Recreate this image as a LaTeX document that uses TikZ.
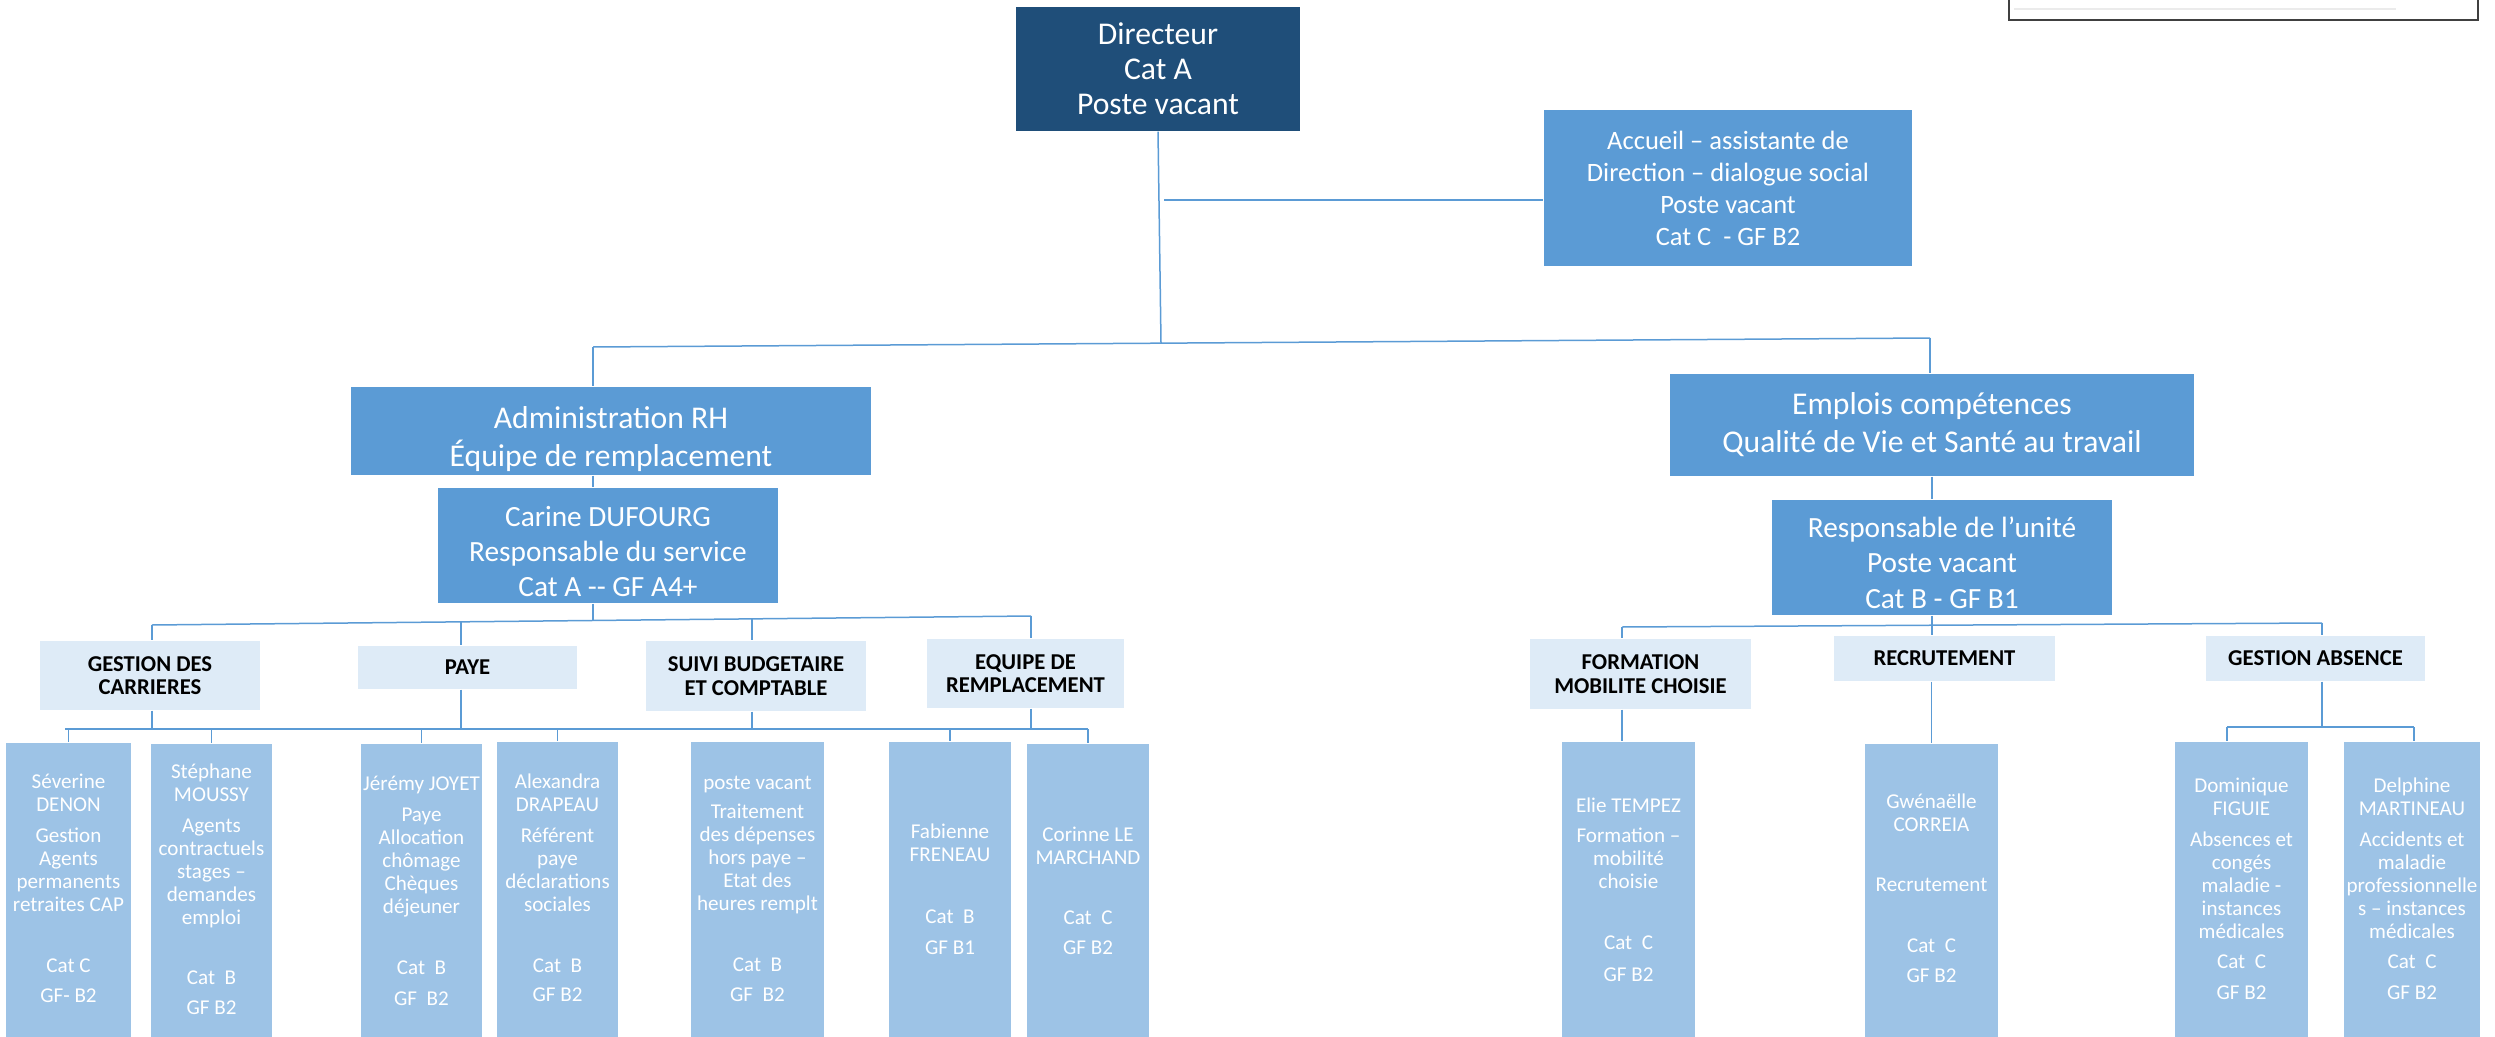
\documentclass[tikz,border=0pt]{standalone}
\usepackage{fontspec}
\setmainfont{Carlito}
\definecolor{dirblue}{RGB}{31,78,121}
\definecolor{midblue}{RGB}{91,155,213}
\definecolor{paleblue}{RGB}{222,235,247}
\definecolor{staffblue}{RGB}{157,195,230}
\newcommand{\staffcell}[3]{\parbox[t][92pt][t]{#1}{\centering\rule{0pt}{#2}#3}}
\newcommand{\topgap}[1]{\rule{0pt}{#1}}

\begin{document}
\begin{tikzpicture}[x=0.3pt, y=-0.3pt,
    conn/.style={draw=midblue, line width=0.45pt},
    head/.style={fill=midblue, text=white, align=center, inner sep=0pt},
    catbox/.style={fill=paleblue, align=center, inner sep=0pt, font=\bfseries\fontsize{6.8}{7.1}\selectfont},
    staff/.style={fill=staffblue, text=white, inner sep=0pt, anchor=north, font=\fontsize{6.33}{6.9}\selectfont}]
    \useasboundingbox (0,0) rectangle (2495,1037);

    % direction
    \node[fill=dirblue, text=white, align=center, inner sep=0pt, minimum width=85.2pt, minimum height=37.2pt,
        font=\fontsize{9.5}{10.5}\selectfont] (dir) at (1158,69) {Directeur\\Cat A\\Poste vacant};
    \node[head, minimum width=110.4pt, minimum height=46.8pt, font=\fontsize{7.95}{9.6}\selectfont] (acc) at (1728,188)
        {Accueil – assistante de\\Direction – dialogue social\\Poste vacant\\Cat C~ - GF B2};

    \node[head, minimum width=156pt, minimum height=26.4pt, font=\fontsize{9.5}{11.4}\selectfont] (adm) at (611,431)
        {\topgap{11.5pt}Administration RH\\Équipe de remplacement};
    \node[head, minimum width=102pt, minimum height=34.5pt, font=\fontsize{8.8}{10.6}\selectfont] (car) at (608,545.5)
        {\topgap{9.6pt}Carine DUFOURG\\Responsable du service\\Cat A -{}- GF A4+};
    \node[head, minimum width=157.2pt, minimum height=30.6pt, font=\fontsize{9.5}{11.4}\selectfont] (emp) at (1932,425)
        {Emplois compétences\\Qualité de Vie et Santé au travail};
    \node[head, minimum width=102pt, minimum height=34.5pt, font=\fontsize{8.8}{10.6}\selectfont] (res) at (1942,557.5)
        {\topgap{9.2pt}Responsable de l’unité\\Poste vacant\\Cat B - GF B1};

    % services
    \node[catbox, minimum width=66pt, minimum height=20.7pt] (gcar) at (150,675.5) {GESTION DES\\CARRIERES};
    \node[catbox, minimum width=65.7pt, minimum height=12.9pt] (paye) at (467.5,667.5) {PAYE};
    \node[catbox, minimum width=66pt, minimum height=21pt] (suivi) at (756,676) {SUIVI BUDGETAIRE\\ET COMPTABLE};
    \node[catbox, minimum width=59.1pt, minimum height=20.7pt] (equ) at (1025.5,673.5) {EQUIPE DE\\REMPLACEMENT};
    \node[catbox, minimum width=66.3pt, minimum height=21pt] (frm) at (1640.5,674) {FORMATION\\MOBILITE CHOISIE};
    \node[catbox, minimum width=66.3pt, minimum height=13.5pt] (rec) at (1944.5,658.5) {RECRUTEMENT};
    \node[catbox, minimum width=65.7pt, minimum height=13.5pt] (gab) at (2315.5,658.5) {GESTION ABSENCE};

    % agents
    \node[staff] (sev) at (68.5,742) {\staffcell{37.5pt}{13.8pt}{Séverine\\DENON\\[2.4pt]Gestion\\Agents\\permanents\\retraites~CAP\\[11.4pt]Cat C\\[2.1pt]GF- B2}};
    \node[staff] (ste) at (211.5,743) {\staffcell{36.3pt}{10.5pt}{Stéphane\\MOUSSY\\[2.4pt]Agents\\contractuels\\stages –\\demandes\\emploi\\[11.1pt]Cat~~B\\[2.1pt]GF B2}};
    \node[staff] (jer) at (421.5,743) {\staffcell{36.3pt}{14.1pt}{Jérémy~JOYET\\[2.4pt]Paye\\Allocation\\chômage\\Chèques\\déjeuner\\[11.4pt]Cat~~B\\[2.4pt]GF~~B2}};
    \node[staff] (ale) at (557.5,741) {\staffcell{36.3pt}{14.1pt}{Alexandra\\DRAPEAU\\[2.4pt]Référent\\paye\\déclarations\\sociales\\[11.4pt]Cat~~B\\[1.8pt]GF B2}};
    \node[staff] (pvac) at (757.5,741) {\staffcell{39.9pt}{14.4pt}{poste vacant\\[1.8pt]Traitement\\des~dépenses\\hors~paye~–\\Etat des\\heures~remplt\\[11.4pt]Cat~~B\\[2.1pt]GF~~B2}};
    \node[staff] (fab) at (950,741) {\staffcell{36.6pt}{29.1pt}{Fabienne\\FRENEAU\\[11.7pt]Cat~~B\\[2.4pt]GF B1}};
    \node[staff] (cor) at (1088,743) {\staffcell{36.6pt}{29.4pt}{Corinne~LE\\MARCHAND\\[11.1pt]Cat~~C\\[2.1pt]GF B2}};
    \node[staff] (eli) at (1628.5,741) {\staffcell{39.9pt}{21.3pt}{Elie~TEMPEZ\\[2.1pt]Formation~–\\mobilité\\choisie\\[11.4pt]Cat~~C\\[2.7pt]GF B2}};
    \node[staff] (gwe) at (1931.5,743) {\staffcell{39.9pt}{19.5pt}{Gwénaëlle\\CORREIA\\[11.1pt]Recrutement\\[11.4pt]Cat~~C\\[2.1pt]GF B2}};
    \node[staff] (dom) at (2241.5,741) {\staffcell{39.9pt}{15.3pt}{Dominique\\FIGUIE\\[2.4pt]Absences~et\\congés\\maladie -\\instances\\médicales\\[2.1pt]Cat~~C\\[2.4pt]GF B2}};
    \node[staff] (del) at (2412,741) {\staffcell{40.8pt}{15.3pt}{Delphine\\MARTINEAU\\[2.4pt]Accidents~et\\maladie\\professionnelle\\s~–~instances\\médicales\\[2.1pt]Cat~~C\\[2.4pt]GF B2}};

    % liaisons
    \coordinate (dirjoin) at (1161,343);
    \coordinate (accjoin) at (1164,200);
    \coordinate (busL) at (593,347);
    \coordinate (busR) at (1930,338);
    \draw[conn] (dir.south) -- (dirjoin);
    \draw[conn] (accjoin) -- (accjoin -| acc.west);
    \draw[conn] (busL) -- (busR);
    \draw[conn] (busL) -- (busL |- adm.north);
    \draw[conn] (busR) -- (busR |- emp.north);

    \coordinate (carjoin) at (593,620);
    \coordinate (b2a) at (152,625);
    \coordinate (b2b) at (461,622);
    \coordinate (b2c) at (752,618);
    \coordinate (b2d) at (1031,616);
    \coordinate (b3L) at (65,729);
    \coordinate (b3R) at (1088,729);
    \draw[conn] (adm.south -| busL) -- (car.north -| busL);
    \draw[conn] (car.south -| busL) -- (carjoin);
    \draw[conn] (b2a) -- (b2d);
    \foreach \c/\n in {b2a/gcar, b2b/paye, b2c/suivi, b2d/equ}
    {
       \draw[conn] (\c) -- (\c |- \n.north);
       \draw[conn] (\n.south -| \c) -- (\c |- b3L);
    }
    \draw[conn] (b3L) -- (b3R);
    \foreach \s in {sev,ste,jer,ale,fab,cor}
    {
       \draw[conn] (\s.north |- b3L) -- (\s.north);
    }

    \coordinate (b4L) at (1622,627);
    \coordinate (b4R) at (2322,623);
    \coordinate (b5L) at (2227,727);
    \coordinate (b5R) at (2414,727);
    \draw[conn] (emp.south) -- (emp.south |- res.north);
    \draw[conn] (res.south -| emp.south) -- (rec.north -| emp.south);
    \draw[conn] (b4L) -- (b4R);
    \draw[conn] (b4L) -- (b4L |- frm.north);
    \draw[conn] (b4R) -- (b4R |- gab.north);
    \draw[conn] (frm.south -| b4L) -- (eli.north -| b4L);
    \draw[conn] (gwe.north |- rec.south) -- (gwe.north);
    \draw[conn] (gab.south -| b4R) -- (b4R |- b5L);
    \draw[conn] (b5L) -- (b5R);
    \draw[conn] (b5L) -- (b5L |- dom.north);
    \draw[conn] (b5R) -- (b5R |- del.north);

    % cadre en haut a droite
    \draw[black!75, line width=0.6pt] (2009,-20) rectangle (2478,20);
    \draw[black!8, line width=0.6pt] (2014,9) -- (2396,9);
\end{tikzpicture}
\end{document}
